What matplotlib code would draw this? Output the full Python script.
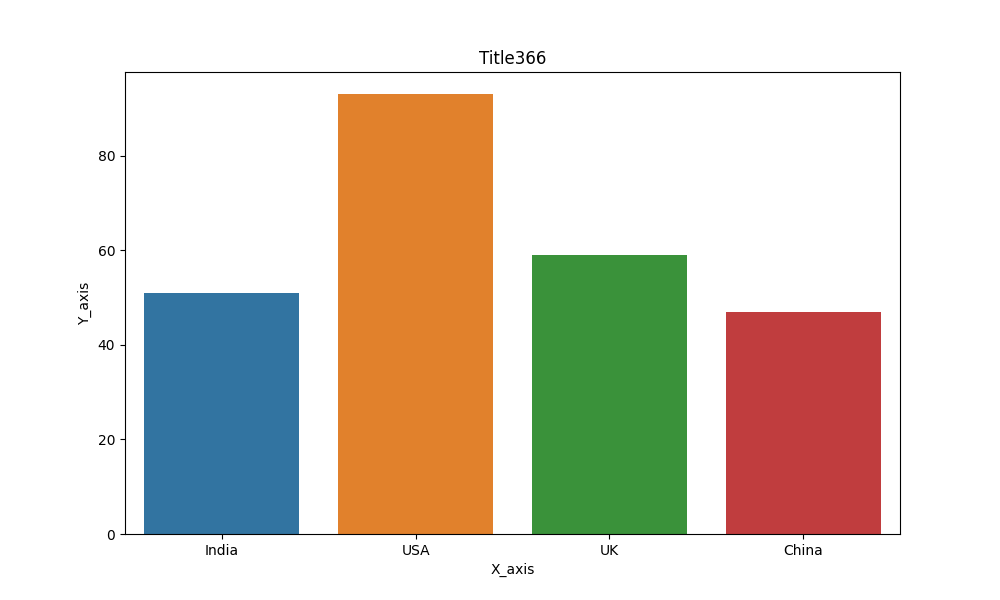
import pandas as pd
import seaborn as sns
import matplotlib
matplotlib.use("Agg")
import matplotlib.pyplot as plt

countries = ["India", "USA", "UK", "China"]
values = [51, 93, 59, 47]

df = pd.DataFrame({"X_axis": countries, "Y_axis": values})

fig, ax = plt.subplots(figsize=(10, 6))
sns.barplot(data=df, x="X_axis", y="Y_axis", hue="X_axis", palette="tab10",
            legend=False, ax=ax)
ax.set_title("Title366")
ax.set_xlabel("X_axis")
ax.set_ylabel("Y_axis")
fig.savefig("out.png", dpi=100)
plt.close(fig)
